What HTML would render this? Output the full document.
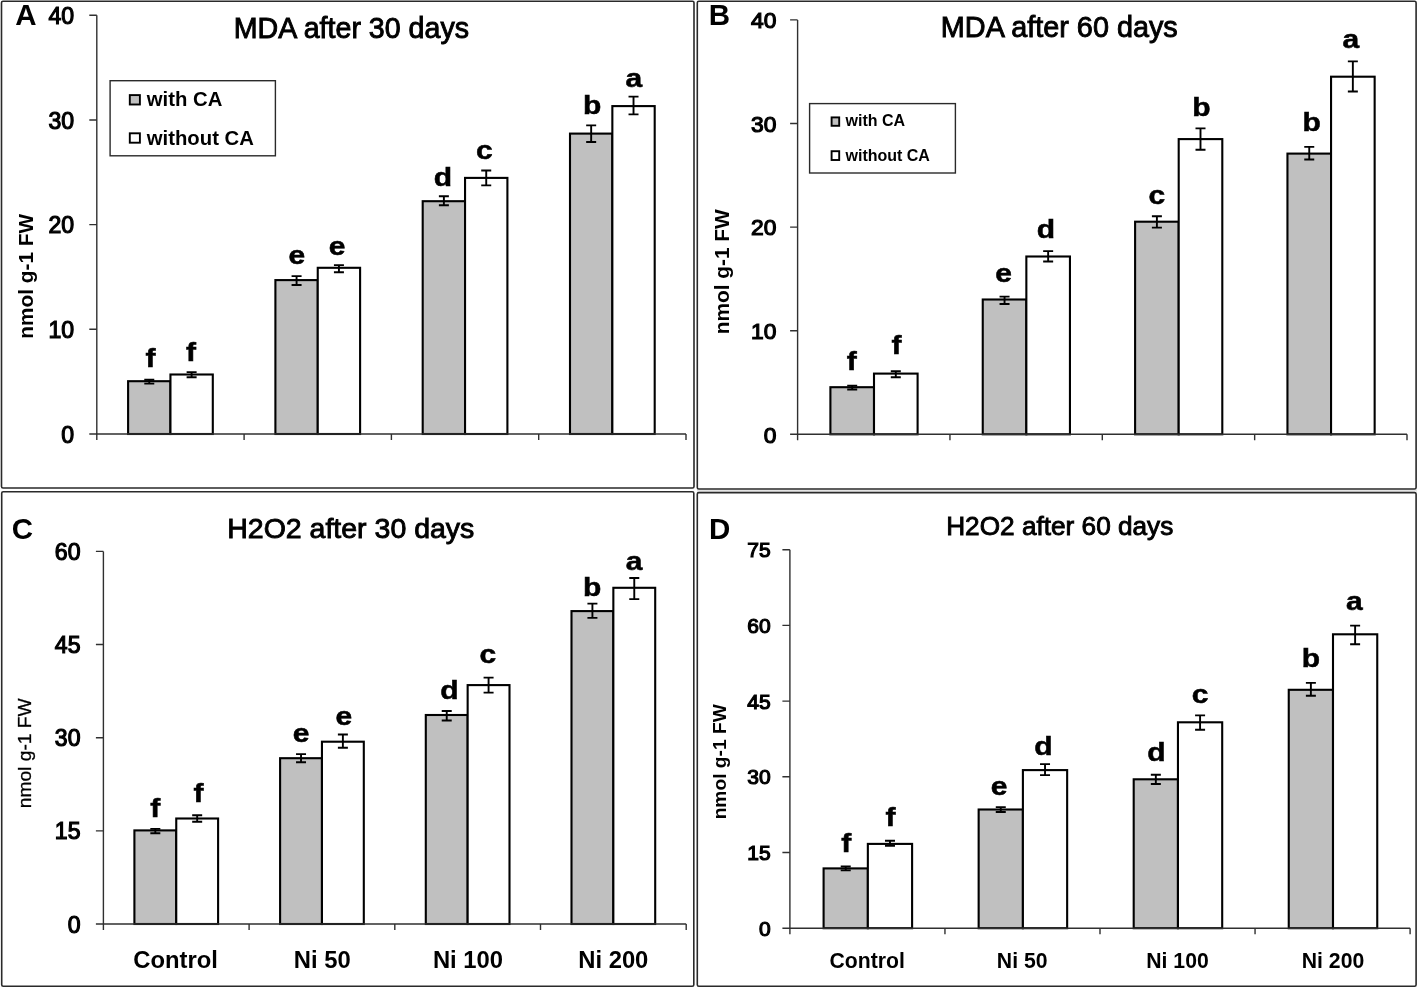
<!DOCTYPE html>
<html><head><meta charset="utf-8"><title>MDA and H2O2 charts</title>
<style>
html,body{margin:0;padding:0;background:#fff;}
body{width:1417px;height:988px;overflow:hidden;}
svg{display:block;filter:grayscale(1);}
text{font-family:"Liberation Sans", sans-serif;fill:#000;}
</style></head>
<body>
<svg width="1417" height="988" viewBox="0 0 1417 988">
<rect x="0" y="0" width="1417" height="988" fill="#fff"/>
<rect x="697" y="489.8" width="720" height="2" fill="#e4e4e4"/>
<rect x="1.5" y="1.3" width="692.50" height="486.70" fill="#fff" stroke="#2a2a2a" stroke-width="1.6" rx="1.5"/>
<text x="26.00" y="24.90" font-size="29.5" font-weight="bold" text-anchor="middle" >A</text>
<text x="351.40" y="38.00" font-size="28.6" font-weight="normal" text-anchor="middle" stroke="#000" stroke-width="0.9" >MDA after 30 days</text>
<rect x="128.10" y="381.20" width="42.35" height="52.80" fill="#c0c0c0" stroke="#000" stroke-width="2.1"/>
<rect x="170.45" y="374.50" width="42.35" height="59.50" fill="#fff" stroke="#000" stroke-width="2.1"/>
<path d="M144.28,379.70H154.28M144.28,383.60H154.28M149.28,379.70V383.60" stroke="#000" stroke-width="1.9" fill="none"/>
<path d="M186.62,372.10H196.62M186.62,377.20H196.62M191.62,372.10V377.20" stroke="#000" stroke-width="1.9" fill="none"/>
<rect x="275.40" y="280.10" width="42.35" height="153.90" fill="#c0c0c0" stroke="#000" stroke-width="2.1"/>
<rect x="317.75" y="267.80" width="42.35" height="166.20" fill="#fff" stroke="#000" stroke-width="2.1"/>
<path d="M291.58,276.10H301.58M291.58,285.00H301.58M296.58,276.10V285.00" stroke="#000" stroke-width="1.9" fill="none"/>
<path d="M333.93,265.10H343.93M333.93,272.30H343.93M338.93,265.10V272.30" stroke="#000" stroke-width="1.9" fill="none"/>
<rect x="422.70" y="201.20" width="42.35" height="232.80" fill="#c0c0c0" stroke="#000" stroke-width="2.1"/>
<rect x="465.05" y="177.90" width="42.35" height="256.10" fill="#fff" stroke="#000" stroke-width="2.1"/>
<path d="M438.88,196.30H448.88M438.88,205.30H448.88M443.88,196.30V205.30" stroke="#000" stroke-width="1.9" fill="none"/>
<path d="M481.23,170.50H491.23M481.23,185.40H491.23M486.23,170.50V185.40" stroke="#000" stroke-width="1.9" fill="none"/>
<rect x="570.00" y="133.60" width="42.35" height="300.40" fill="#c0c0c0" stroke="#000" stroke-width="2.1"/>
<rect x="612.35" y="106.10" width="42.35" height="327.90" fill="#fff" stroke="#000" stroke-width="2.1"/>
<path d="M586.17,125.40H596.17M586.17,142.00H596.17M591.17,125.40V142.00" stroke="#000" stroke-width="1.9" fill="none"/>
<path d="M628.52,96.60H638.52M628.52,114.40H638.52M633.52,96.60V114.40" stroke="#000" stroke-width="1.9" fill="none"/>
<path d="M96.8,15.3V440.0M89.3,434.0H686.0" stroke="#303030" stroke-width="1.4" fill="none"/>
<path d="M89.3,15.30H96.8M89.3,119.97H96.8M89.3,224.65H96.8M89.3,329.32H96.8M244.10,434.0V440.0M391.40,434.0V440.0M538.70,434.0V440.0M686.00,434.0V440.0" stroke="#303030" stroke-width="1.4" fill="none"/>
<text transform="translate(74.20,23.90) scale(0.95,1)" x="0" y="0" font-size="24.3" font-weight="normal" text-anchor="end" stroke="#000" stroke-width="1.2" >40</text>
<text transform="translate(74.20,128.57) scale(0.95,1)" x="0" y="0" font-size="24.3" font-weight="normal" text-anchor="end" stroke="#000" stroke-width="1.2" >30</text>
<text transform="translate(74.20,233.25) scale(0.95,1)" x="0" y="0" font-size="24.3" font-weight="normal" text-anchor="end" stroke="#000" stroke-width="1.2" >20</text>
<text transform="translate(74.20,337.93) scale(0.95,1)" x="0" y="0" font-size="24.3" font-weight="normal" text-anchor="end" stroke="#000" stroke-width="1.2" >10</text>
<text transform="translate(74.20,442.60) scale(0.95,1)" x="0" y="0" font-size="24.3" font-weight="normal" text-anchor="end" stroke="#000" stroke-width="1.2" >0</text>
<text transform="translate(32.6,276.3) rotate(-90)" x="0" y="0" font-size="20.8" font-weight="bold" text-anchor="middle">nmol g-1 FW</text>
<text transform="translate(150.60,366.60) scale(1.2,1)" x="0" y="0" font-size="25.0" font-weight="bold" text-anchor="middle" stroke="#000" stroke-width="0.5" >f</text>
<text transform="translate(296.85,264.40) scale(1.2,1)" x="0" y="0" font-size="25.0" font-weight="bold" text-anchor="middle" stroke="#000" stroke-width="0.5" >e</text>
<text transform="translate(443.00,186.30) scale(1.2,1)" x="0" y="0" font-size="25.0" font-weight="bold" text-anchor="middle" stroke="#000" stroke-width="0.5" >d</text>
<text transform="translate(592.20,113.70) scale(1.2,1)" x="0" y="0" font-size="25.0" font-weight="bold" text-anchor="middle" stroke="#000" stroke-width="0.5" >b</text>
<text transform="translate(191.10,360.70) scale(1.2,1)" x="0" y="0" font-size="25.0" font-weight="bold" text-anchor="middle" stroke="#000" stroke-width="0.5" >f</text>
<text transform="translate(337.05,254.60) scale(1.2,1)" x="0" y="0" font-size="25.0" font-weight="bold" text-anchor="middle" stroke="#000" stroke-width="0.5" >e</text>
<text transform="translate(484.35,158.80) scale(1.2,1)" x="0" y="0" font-size="25.0" font-weight="bold" text-anchor="middle" stroke="#000" stroke-width="0.5" >c</text>
<text transform="translate(633.85,87.00) scale(1.2,1)" x="0" y="0" font-size="25.0" font-weight="bold" text-anchor="middle" stroke="#000" stroke-width="0.5" >a</text>
<rect x="110.1" y="80.7" width="165.30" height="75.10" fill="#fff" stroke="#2a2a2a" stroke-width="1.4"/>
<rect x="129.80" y="95.10" width="10.10" height="9.40" fill="#c0c0c0" stroke="#000" stroke-width="1.9"/>
<rect x="129.80" y="133.30" width="10.10" height="9.40" fill="#fff" stroke="#000" stroke-width="1.9"/>
<text x="146.80" y="105.70" font-size="20.3" font-weight="bold" text-anchor="start" >with CA</text>
<text x="146.80" y="144.50" font-size="20.3" font-weight="bold" text-anchor="start" >without CA</text>
<rect x="697.3" y="1.3" width="718.80" height="487.70" fill="#fff" stroke="#2a2a2a" stroke-width="1.6" rx="1.5"/>
<text x="719.30" y="24.90" font-size="29.5" font-weight="bold" text-anchor="middle" >B</text>
<text x="1059.30" y="37.40" font-size="28.8" font-weight="normal" text-anchor="middle" stroke="#000" stroke-width="0.9" >MDA after 60 days</text>
<rect x="830.40" y="387.20" width="43.60" height="47.10" fill="#c0c0c0" stroke="#000" stroke-width="2.1"/>
<rect x="874.00" y="373.60" width="43.60" height="60.70" fill="#fff" stroke="#000" stroke-width="2.1"/>
<path d="M847.20,385.60H857.20M847.20,389.50H857.20M852.20,385.60V389.50" stroke="#000" stroke-width="1.9" fill="none"/>
<path d="M890.80,371.20H900.80M890.80,377.20H900.80M895.80,371.20V377.20" stroke="#000" stroke-width="1.9" fill="none"/>
<rect x="982.75" y="299.50" width="43.60" height="134.80" fill="#c0c0c0" stroke="#000" stroke-width="2.1"/>
<rect x="1026.35" y="256.50" width="43.60" height="177.80" fill="#fff" stroke="#000" stroke-width="2.1"/>
<path d="M999.55,296.60H1009.55M999.55,304.00H1009.55M1004.55,296.60V304.00" stroke="#000" stroke-width="1.9" fill="none"/>
<path d="M1043.15,251.10H1053.15M1043.15,261.50H1053.15M1048.15,251.10V261.50" stroke="#000" stroke-width="1.9" fill="none"/>
<rect x="1135.10" y="221.70" width="43.60" height="212.60" fill="#c0c0c0" stroke="#000" stroke-width="2.1"/>
<rect x="1178.70" y="139.10" width="43.60" height="295.20" fill="#fff" stroke="#000" stroke-width="2.1"/>
<path d="M1151.90,216.30H1161.90M1151.90,227.60H1161.90M1156.90,216.30V227.60" stroke="#000" stroke-width="1.9" fill="none"/>
<path d="M1195.50,128.40H1205.50M1195.50,149.80H1205.50M1200.50,128.40V149.80" stroke="#000" stroke-width="1.9" fill="none"/>
<rect x="1287.45" y="153.60" width="43.60" height="280.70" fill="#c0c0c0" stroke="#000" stroke-width="2.1"/>
<rect x="1331.05" y="76.70" width="43.60" height="357.60" fill="#fff" stroke="#000" stroke-width="2.1"/>
<path d="M1304.25,146.90H1314.25M1304.25,159.50H1314.25M1309.25,146.90V159.50" stroke="#000" stroke-width="1.9" fill="none"/>
<path d="M1347.85,61.40H1357.85M1347.85,91.50H1357.85M1352.85,61.40V91.50" stroke="#000" stroke-width="1.9" fill="none"/>
<path d="M797.6,19.9V440.3M790.1,434.3H1407.0" stroke="#303030" stroke-width="1.4" fill="none"/>
<path d="M790.1,19.90H797.6M790.1,123.50H797.6M790.1,227.10H797.6M790.1,330.70H797.6M949.95,434.3V440.3M1102.30,434.3V440.3M1254.65,434.3V440.3M1407.00,434.3V440.3" stroke="#303030" stroke-width="1.4" fill="none"/>
<text x="776.40" y="28.20" font-size="22.8" font-weight="normal" text-anchor="end" stroke="#000" stroke-width="1.2" >40</text>
<text x="776.40" y="131.80" font-size="22.8" font-weight="normal" text-anchor="end" stroke="#000" stroke-width="1.2" >30</text>
<text x="776.40" y="235.40" font-size="22.8" font-weight="normal" text-anchor="end" stroke="#000" stroke-width="1.2" >20</text>
<text x="776.40" y="339.00" font-size="22.8" font-weight="normal" text-anchor="end" stroke="#000" stroke-width="1.2" >10</text>
<text x="776.40" y="442.60" font-size="22.8" font-weight="normal" text-anchor="end" stroke="#000" stroke-width="1.2" >0</text>
<text transform="translate(728.8,271.8) rotate(-90)" x="0" y="0" font-size="20.85" font-weight="bold" text-anchor="middle">nmol g-1 FW</text>
<text transform="translate(851.75,369.60) scale(1.2,1)" x="0" y="0" font-size="25.0" font-weight="bold" text-anchor="middle" stroke="#000" stroke-width="0.5" >f</text>
<text transform="translate(1003.65,282.40) scale(1.2,1)" x="0" y="0" font-size="25.0" font-weight="bold" text-anchor="middle" stroke="#000" stroke-width="0.5" >e</text>
<text transform="translate(1156.80,204.20) scale(1.2,1)" x="0" y="0" font-size="25.0" font-weight="bold" text-anchor="middle" stroke="#000" stroke-width="0.5" >c</text>
<text transform="translate(1311.70,131.20) scale(1.2,1)" x="0" y="0" font-size="25.0" font-weight="bold" text-anchor="middle" stroke="#000" stroke-width="0.5" >b</text>
<text transform="translate(896.40,354.40) scale(1.2,1)" x="0" y="0" font-size="25.0" font-weight="bold" text-anchor="middle" stroke="#000" stroke-width="0.5" >f</text>
<text transform="translate(1045.90,237.80) scale(1.2,1)" x="0" y="0" font-size="25.0" font-weight="bold" text-anchor="middle" stroke="#000" stroke-width="0.5" >d</text>
<text transform="translate(1201.35,115.90) scale(1.2,1)" x="0" y="0" font-size="25.0" font-weight="bold" text-anchor="middle" stroke="#000" stroke-width="0.5" >b</text>
<text transform="translate(1350.80,48.30) scale(1.2,1)" x="0" y="0" font-size="25.0" font-weight="bold" text-anchor="middle" stroke="#000" stroke-width="0.5" >a</text>
<rect x="809.6" y="103.6" width="145.80" height="69.40" fill="#fff" stroke="#2a2a2a" stroke-width="1.4"/>
<rect x="831.60" y="117.40" width="7.60" height="8.40" fill="#c0c0c0" stroke="#000" stroke-width="1.9"/>
<rect x="831.60" y="151.20" width="7.60" height="8.80" fill="#fff" stroke="#000" stroke-width="1.9"/>
<text x="845.50" y="126.30" font-size="16.0" font-weight="bold" text-anchor="start" >with CA</text>
<text x="845.50" y="160.50" font-size="16.0" font-weight="bold" text-anchor="start" >without CA</text>
<rect x="1.7" y="491.7" width="692.10" height="494.50" fill="#fff" stroke="#2a2a2a" stroke-width="1.6" rx="1.5"/>
<text x="22.45" y="539.20" font-size="29.5" font-weight="bold" text-anchor="middle" >C</text>
<text x="350.80" y="538.00" font-size="28.5" font-weight="normal" text-anchor="middle" stroke="#000" stroke-width="0.9" >H2O2 after 30 days</text>
<rect x="134.40" y="830.40" width="41.85" height="93.60" fill="#c0c0c0" stroke="#000" stroke-width="2.1"/>
<rect x="176.25" y="818.50" width="41.85" height="105.50" fill="#fff" stroke="#000" stroke-width="2.1"/>
<path d="M150.33,828.90H160.33M150.33,833.20H160.33M155.33,828.90V833.20" stroke="#000" stroke-width="1.9" fill="none"/>
<path d="M192.18,815.30H202.18M192.18,821.70H202.18M197.18,815.30V821.70" stroke="#000" stroke-width="1.9" fill="none"/>
<rect x="280.10" y="758.20" width="41.85" height="165.80" fill="#c0c0c0" stroke="#000" stroke-width="2.1"/>
<rect x="321.95" y="741.70" width="41.85" height="182.30" fill="#fff" stroke="#000" stroke-width="2.1"/>
<path d="M296.03,754.10H306.03M296.03,762.20H306.03M301.03,754.10V762.20" stroke="#000" stroke-width="1.9" fill="none"/>
<path d="M337.88,734.50H347.88M337.88,747.80H347.88M342.88,734.50V747.80" stroke="#000" stroke-width="1.9" fill="none"/>
<rect x="425.80" y="715.00" width="41.85" height="209.00" fill="#c0c0c0" stroke="#000" stroke-width="2.1"/>
<rect x="467.65" y="685.10" width="41.85" height="238.90" fill="#fff" stroke="#000" stroke-width="2.1"/>
<path d="M441.73,711.00H451.73M441.73,720.50H451.73M446.73,711.00V720.50" stroke="#000" stroke-width="1.9" fill="none"/>
<path d="M483.58,677.60H493.58M483.58,692.60H493.58M488.58,677.60V692.60" stroke="#000" stroke-width="1.9" fill="none"/>
<rect x="571.50" y="611.10" width="41.85" height="312.90" fill="#c0c0c0" stroke="#000" stroke-width="2.1"/>
<rect x="613.35" y="587.80" width="41.85" height="336.20" fill="#fff" stroke="#000" stroke-width="2.1"/>
<path d="M587.42,603.60H597.42M587.42,617.90H597.42M592.42,603.60V617.90" stroke="#000" stroke-width="1.9" fill="none"/>
<path d="M629.27,578.00H639.27M629.27,599.10H639.27M634.27,578.00V599.10" stroke="#000" stroke-width="1.9" fill="none"/>
<path d="M103.4,551.4V930.0M95.9,924.0H686.2" stroke="#303030" stroke-width="1.4" fill="none"/>
<path d="M95.9,551.40H103.4M95.9,644.55H103.4M95.9,737.70H103.4M95.9,830.85H103.4M249.10,924.0V930.0M394.80,924.0V930.0M540.50,924.0V930.0M686.20,924.0V930.0" stroke="#303030" stroke-width="1.4" fill="none"/>
<text transform="translate(80.50,560.00) scale(0.95,1)" x="0" y="0" font-size="24.3" font-weight="normal" text-anchor="end" stroke="#000" stroke-width="1.2" >60</text>
<text transform="translate(80.50,653.15) scale(0.95,1)" x="0" y="0" font-size="24.3" font-weight="normal" text-anchor="end" stroke="#000" stroke-width="1.2" >45</text>
<text transform="translate(80.50,746.30) scale(0.95,1)" x="0" y="0" font-size="24.3" font-weight="normal" text-anchor="end" stroke="#000" stroke-width="1.2" >30</text>
<text transform="translate(80.50,839.45) scale(0.95,1)" x="0" y="0" font-size="24.3" font-weight="normal" text-anchor="end" stroke="#000" stroke-width="1.2" >15</text>
<text transform="translate(80.50,932.60) scale(0.95,1)" x="0" y="0" font-size="24.3" font-weight="normal" text-anchor="end" stroke="#000" stroke-width="1.2" >0</text>
<text transform="translate(30.5,753.3) rotate(-90)" x="0" y="0" font-size="19.2" font-weight="normal" text-anchor="middle" stroke="#000" stroke-width="0.3">nmol g-1 FW</text>
<text transform="translate(155.30,816.60) scale(1.2,1)" x="0" y="0" font-size="25.0" font-weight="bold" text-anchor="middle" stroke="#000" stroke-width="0.5" >f</text>
<text transform="translate(301.20,741.60) scale(1.2,1)" x="0" y="0" font-size="25.0" font-weight="bold" text-anchor="middle" stroke="#000" stroke-width="0.5" >e</text>
<text transform="translate(449.45,699.30) scale(1.2,1)" x="0" y="0" font-size="25.0" font-weight="bold" text-anchor="middle" stroke="#000" stroke-width="0.5" >d</text>
<text transform="translate(592.15,595.90) scale(1.2,1)" x="0" y="0" font-size="25.0" font-weight="bold" text-anchor="middle" stroke="#000" stroke-width="0.5" >b</text>
<text transform="translate(198.50,802.20) scale(1.2,1)" x="0" y="0" font-size="25.0" font-weight="bold" text-anchor="middle" stroke="#000" stroke-width="0.5" >f</text>
<text transform="translate(343.95,724.60) scale(1.2,1)" x="0" y="0" font-size="25.0" font-weight="bold" text-anchor="middle" stroke="#000" stroke-width="0.5" >e</text>
<text transform="translate(487.90,663.40) scale(1.2,1)" x="0" y="0" font-size="25.0" font-weight="bold" text-anchor="middle" stroke="#000" stroke-width="0.5" >c</text>
<text transform="translate(634.00,569.80) scale(1.2,1)" x="0" y="0" font-size="25.0" font-weight="bold" text-anchor="middle" stroke="#000" stroke-width="0.5" >a</text>
<text x="175.50" y="967.50" font-size="23.8" font-weight="bold" text-anchor="middle" >Control</text>
<text x="322.25" y="967.50" font-size="23.8" font-weight="bold" text-anchor="middle" >Ni 50</text>
<text x="468.00" y="967.50" font-size="23.8" font-weight="bold" text-anchor="middle" >Ni 100</text>
<text x="613.30" y="967.50" font-size="23.8" font-weight="bold" text-anchor="middle" >Ni 200</text>
<rect x="697.3" y="492.6" width="718.80" height="493.60" fill="#fff" stroke="#2a2a2a" stroke-width="1.6" rx="1.5"/>
<text x="719.70" y="539.00" font-size="29.5" font-weight="bold" text-anchor="middle" >D</text>
<text x="1059.75" y="535.40" font-size="26.2" font-weight="normal" text-anchor="middle" stroke="#000" stroke-width="0.9" >H2O2 after 60 days</text>
<rect x="823.60" y="868.40" width="44.25" height="59.80" fill="#c0c0c0" stroke="#000" stroke-width="2.1"/>
<rect x="867.85" y="843.90" width="44.25" height="84.30" fill="#fff" stroke="#000" stroke-width="2.1"/>
<path d="M840.73,866.50H850.73M840.73,870.40H850.73M845.73,866.50V870.40" stroke="#000" stroke-width="1.9" fill="none"/>
<path d="M884.98,840.70H894.98M884.98,845.80H894.98M889.98,840.70V845.80" stroke="#000" stroke-width="1.9" fill="none"/>
<rect x="978.65" y="809.50" width="44.25" height="118.70" fill="#c0c0c0" stroke="#000" stroke-width="2.1"/>
<rect x="1022.90" y="770.10" width="44.25" height="158.10" fill="#fff" stroke="#000" stroke-width="2.1"/>
<path d="M995.77,807.10H1005.77M995.77,812.00H1005.77M1000.77,807.10V812.00" stroke="#000" stroke-width="1.9" fill="none"/>
<path d="M1040.03,764.10H1050.03M1040.03,775.10H1050.03M1045.03,764.10V775.10" stroke="#000" stroke-width="1.9" fill="none"/>
<rect x="1133.70" y="779.30" width="44.25" height="148.90" fill="#c0c0c0" stroke="#000" stroke-width="2.1"/>
<rect x="1177.95" y="722.30" width="44.25" height="205.90" fill="#fff" stroke="#000" stroke-width="2.1"/>
<path d="M1150.83,774.70H1160.83M1150.83,784.00H1160.83M1155.83,774.70V784.00" stroke="#000" stroke-width="1.9" fill="none"/>
<path d="M1195.08,715.40H1205.08M1195.08,729.80H1205.08M1200.08,715.40V729.80" stroke="#000" stroke-width="1.9" fill="none"/>
<rect x="1288.75" y="689.80" width="44.25" height="238.40" fill="#c0c0c0" stroke="#000" stroke-width="2.1"/>
<rect x="1333.00" y="634.30" width="44.25" height="293.90" fill="#fff" stroke="#000" stroke-width="2.1"/>
<path d="M1305.88,682.90H1315.88M1305.88,695.70H1315.88M1310.88,682.90V695.70" stroke="#000" stroke-width="1.9" fill="none"/>
<path d="M1350.12,625.60H1360.12M1350.12,644.20H1360.12M1355.12,625.60V644.20" stroke="#000" stroke-width="1.9" fill="none"/>
<path d="M789.9,549.7V934.2M782.4,928.2H1410.1" stroke="#303030" stroke-width="1.4" fill="none"/>
<path d="M782.4,549.70H789.9M782.4,625.40H789.9M782.4,701.10H789.9M782.4,776.80H789.9M782.4,852.50H789.9M944.95,928.2V934.2M1100.00,928.2V934.2M1255.05,928.2V934.2M1410.10,928.2V934.2" stroke="#303030" stroke-width="1.4" fill="none"/>
<text x="770.60" y="557.10" font-size="21.0" font-weight="normal" text-anchor="end" stroke="#000" stroke-width="1.2" >75</text>
<text x="770.60" y="632.80" font-size="21.0" font-weight="normal" text-anchor="end" stroke="#000" stroke-width="1.2" >60</text>
<text x="770.60" y="708.50" font-size="21.0" font-weight="normal" text-anchor="end" stroke="#000" stroke-width="1.2" >45</text>
<text x="770.60" y="784.20" font-size="21.0" font-weight="normal" text-anchor="end" stroke="#000" stroke-width="1.2" >30</text>
<text x="770.60" y="859.90" font-size="21.0" font-weight="normal" text-anchor="end" stroke="#000" stroke-width="1.2" >15</text>
<text x="770.60" y="935.60" font-size="21.0" font-weight="normal" text-anchor="end" stroke="#000" stroke-width="1.2" >0</text>
<text transform="translate(725.5,761.8) rotate(-90)" x="0" y="0" font-size="19.2" font-weight="bold" text-anchor="middle">nmol g-1 FW</text>
<text transform="translate(846.20,852.10) scale(1.2,1)" x="0" y="0" font-size="25.0" font-weight="bold" text-anchor="middle" stroke="#000" stroke-width="0.5" >f</text>
<text transform="translate(999.05,795.40) scale(1.2,1)" x="0" y="0" font-size="25.0" font-weight="bold" text-anchor="middle" stroke="#000" stroke-width="0.5" >e</text>
<text transform="translate(1156.40,761.30) scale(1.2,1)" x="0" y="0" font-size="25.0" font-weight="bold" text-anchor="middle" stroke="#000" stroke-width="0.5" >d</text>
<text transform="translate(1311.00,666.90) scale(1.2,1)" x="0" y="0" font-size="25.0" font-weight="bold" text-anchor="middle" stroke="#000" stroke-width="0.5" >b</text>
<text transform="translate(890.50,825.50) scale(1.2,1)" x="0" y="0" font-size="25.0" font-weight="bold" text-anchor="middle" stroke="#000" stroke-width="0.5" >f</text>
<text transform="translate(1043.35,755.40) scale(1.2,1)" x="0" y="0" font-size="25.0" font-weight="bold" text-anchor="middle" stroke="#000" stroke-width="0.5" >d</text>
<text transform="translate(1200.20,703.00) scale(1.2,1)" x="0" y="0" font-size="25.0" font-weight="bold" text-anchor="middle" stroke="#000" stroke-width="0.5" >c</text>
<text transform="translate(1354.45,609.90) scale(1.2,1)" x="0" y="0" font-size="25.0" font-weight="bold" text-anchor="middle" stroke="#000" stroke-width="0.5" >a</text>
<text x="867.20" y="968.00" font-size="21.2" font-weight="bold" text-anchor="middle" >Control</text>
<text x="1022.20" y="968.00" font-size="21.2" font-weight="bold" text-anchor="middle" >Ni 50</text>
<text x="1177.50" y="968.00" font-size="21.2" font-weight="bold" text-anchor="middle" >Ni 100</text>
<text x="1333.00" y="968.00" font-size="21.2" font-weight="bold" text-anchor="middle" >Ni 200</text>
</svg>
</body></html>
